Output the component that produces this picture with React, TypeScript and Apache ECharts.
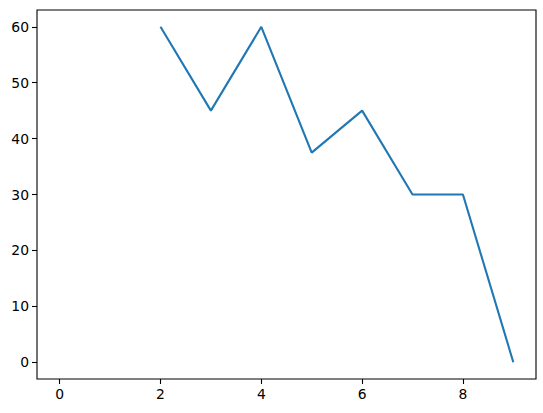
import React, { useEffect, useRef } from "react";
import * as echarts from "echarts";

const xValues = [2, 3, 4, 5, 6, 7, 8, 9];
const yValues = [60, 45, 60, 37.5, 45, 30, 30, 0];
const xTicks = [0, 2, 4, 6, 8];
const yTicks = [0, 10, 20, 30, 40, 50, 60];

const FONT = "DejaVu Sans";

export default function App() {
  const ref = useRef<HTMLDivElement>(null);
  useEffect(() => {
    if (!ref.current) return;
    const chart = echarts.init(ref.current, null, { renderer: "svg" });
    chart.setOption({
      animation: false,
      backgroundColor: "#ffffff",
      grid: {
        left: 37,
        right: 7,
        top: 10,
        bottom: 34,
        show: true,
        borderColor: "#000000",
        borderWidth: 1.1,
        backgroundColor: "transparent",
      },
      xAxis: {
        type: "value",
        min: -0.45,
        max: 9.45,
        splitLine: { show: false },
        axisLine: { show: false, onZero: false },
        axisTick: {
          show: true,
          length: 5,
          inside: false,
          lineStyle: { color: "#000", width: 1.1 },
          customValues: xTicks,
        },
        axisLabel: {
          customValues: xTicks,
          margin: 8,
          color: "#000",
          fontFamily: FONT,
          fontSize: 13.9,
          showMinLabel: true,
          showMaxLabel: true,
        },
      },
      yAxis: {
        type: "value",
        min: -3,
        max: 63,
        splitLine: { show: false },
        axisLine: { show: false, onZero: false },
        axisTick: {
          show: true,
          length: 5,
          inside: false,
          lineStyle: { color: "#000", width: 1.1 },
          customValues: yTicks,
        },
        axisLabel: {
          customValues: yTicks,
          margin: 8,
          color: "#000",
          fontFamily: FONT,
          fontSize: 13.9,
        },
      },
      series: [
        {
          type: "line",
          data: xValues.map((x, i) => [x, yValues[i]]),
          showSymbol: false,
          symbol: "none",
          lineStyle: { color: "#1f77b4", width: 2.1 },
          itemStyle: { color: "#1f77b4" },
        },
      ],
    });
    return () => chart.dispose();
  }, []);
  return (
    <div
      ref={ref}
      style={{ position: "absolute", left: 0, top: 0, width: 543, height: 413 }}
    />
  );
}
